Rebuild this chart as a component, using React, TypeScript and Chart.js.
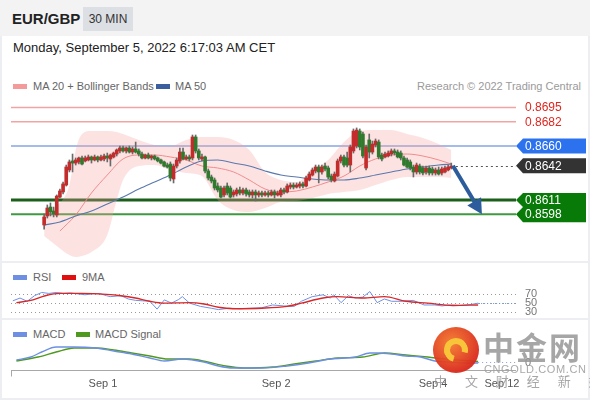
import React, { useEffect, useRef } from "react";
import { Chart, registerables } from "chart.js";
Chart.register(...registerables);

const FONT = '"Liberation Sans", Arial, Helvetica, sans-serif';
const SLOTS = 140;

// ---- 30-minute candles (EUR/GBP) ----
const candleOpen = [
  0.85882, 0.85964, 0.86045, 0.86009, 0.85973, 0.86136, 0.86182, 0.86245, 0.86382, 0.86464,
  0.86445, 0.86455, 0.86491, 0.86464, 0.86473, 0.865, 0.86473, 0.865, 0.86473, 0.86482,
  0.86509, 0.86482, 0.865, 0.86527, 0.86555, 0.86582, 0.86555, 0.86582, 0.86545, 0.86573,
  0.86555, 0.86527, 0.86491, 0.86518, 0.86491, 0.86509, 0.86491, 0.86473, 0.86455, 0.86427,
  0.86436, 0.863, 0.86418, 0.86464, 0.86545, 0.86482, 0.865, 0.86491, 0.86682, 0.86555,
  0.86482, 0.865, 0.86373, 0.86318, 0.86291, 0.86236, 0.86218, 0.86155, 0.86236, 0.86218,
  0.86155, 0.86164, 0.862, 0.86173, 0.862, 0.86182, 0.86155, 0.86182, 0.86155, 0.86173,
  0.86155, 0.86173, 0.86155, 0.86182, 0.86155, 0.86155, 0.862, 0.86182, 0.86227, 0.86245,
  0.86227, 0.86236, 0.86255, 0.86236, 0.86291, 0.86336, 0.86373, 0.86409, 0.86364, 0.86418,
  0.864, 0.86327, 0.86282, 0.86327, 0.86464, 0.865, 0.86491, 0.86427, 0.86555, 0.866,
  0.86736, 0.86709, 0.864, 0.86655, 0.86545, 0.86609, 0.86636, 0.86518, 0.865, 0.86509,
  0.86527, 0.86555, 0.86545, 0.86536, 0.86491, 0.86473, 0.86455, 0.86409, 0.86364, 0.86418,
  0.864, 0.86364, 0.864, 0.86391, 0.86355, 0.86382, 0.86355, 0.86364, 0.86382, 0.864,
];
const candleClose = [
  0.85955, 0.86036, 0.86, 0.85982, 0.86145, 0.86191, 0.86255, 0.86409, 0.86455, 0.86445,
  0.86473, 0.86491, 0.86436, 0.86491, 0.865, 0.86473, 0.865, 0.86473, 0.865, 0.86509,
  0.86491, 0.86518, 0.86536, 0.86564, 0.86582, 0.86555, 0.86582, 0.86545, 0.86573, 0.86545,
  0.86527, 0.86491, 0.86518, 0.86491, 0.86509, 0.86482, 0.86464, 0.86445, 0.86418, 0.86409,
  0.86309, 0.86418, 0.86473, 0.86545, 0.86482, 0.865, 0.86482, 0.86682, 0.86555, 0.86491,
  0.865, 0.86373, 0.86309, 0.86282, 0.86218, 0.862, 0.86136, 0.86218, 0.86173, 0.86136,
  0.86182, 0.862, 0.86173, 0.862, 0.86164, 0.86155, 0.86182, 0.86155, 0.86173, 0.86155,
  0.86173, 0.86155, 0.86182, 0.86155, 0.86173, 0.862, 0.86182, 0.86236, 0.86245, 0.86227,
  0.86245, 0.86255, 0.86236, 0.86309, 0.86345, 0.86382, 0.86409, 0.86364, 0.86409, 0.86391,
  0.86318, 0.86291, 0.86345, 0.86464, 0.865, 0.86427, 0.86427, 0.86591, 0.86736, 0.86745,
  0.86591, 0.86509, 0.86591, 0.86545, 0.86618, 0.86645, 0.865, 0.86482, 0.86527, 0.86536,
  0.86555, 0.86536, 0.865, 0.86491, 0.86427, 0.86409, 0.864, 0.86364, 0.86427, 0.86364,
  0.86355, 0.864, 0.86355, 0.86355, 0.86382, 0.86345, 0.86391, 0.864, 0.86409, 0.86418,
];
const candleHigh = [
  0.85982, 0.86064, 0.86082, 0.86045, 0.86155, 0.86209, 0.86273, 0.86427, 0.86473, 0.86527,
  0.86491, 0.865, 0.86509, 0.86509, 0.86518, 0.86509, 0.86518, 0.86509, 0.86518, 0.86527,
  0.86536, 0.86527, 0.86545, 0.86573, 0.866, 0.866, 0.86591, 0.866, 0.86591, 0.86636,
  0.86573, 0.86545, 0.86527, 0.86536, 0.86518, 0.86518, 0.865, 0.86482, 0.86464, 0.86445,
  0.86455, 0.86436, 0.86491, 0.86582, 0.86582, 0.86518, 0.86518, 0.867, 0.867, 0.86573,
  0.86527, 0.86509, 0.86391, 0.86336, 0.86309, 0.86264, 0.86236, 0.86236, 0.86264, 0.86236,
  0.862, 0.86218, 0.86227, 0.86218, 0.86218, 0.862, 0.862, 0.862, 0.86191, 0.86191,
  0.86191, 0.86191, 0.862, 0.862, 0.86191, 0.86218, 0.86218, 0.86255, 0.86264, 0.86264,
  0.86264, 0.86273, 0.86273, 0.86327, 0.86364, 0.864, 0.86427, 0.86427, 0.86427, 0.86445,
  0.86418, 0.86345, 0.86364, 0.86482, 0.86518, 0.86518, 0.86545, 0.86609, 0.86755, 0.86764,
  0.86755, 0.86727, 0.86609, 0.86709, 0.86645, 0.86664, 0.86655, 0.86536, 0.86545, 0.86555,
  0.86573, 0.86573, 0.86564, 0.86555, 0.86509, 0.86491, 0.86473, 0.86427, 0.86445, 0.86436,
  0.86418, 0.86418, 0.86418, 0.86409, 0.864, 0.86409, 0.86409, 0.86418, 0.86427, 0.86445,
];
const candleLow = [
  0.85845, 0.85945, 0.85964, 0.85955, 0.85955, 0.86127, 0.86164, 0.86236, 0.86364, 0.86364,
  0.86427, 0.86436, 0.86427, 0.86455, 0.86464, 0.86445, 0.86464, 0.86455, 0.86464, 0.86464,
  0.86455, 0.86418, 0.86491, 0.86509, 0.86536, 0.86545, 0.86536, 0.86536, 0.86527, 0.86536,
  0.86509, 0.86482, 0.86482, 0.86482, 0.86473, 0.86473, 0.86455, 0.86436, 0.86409, 0.864,
  0.86282, 0.86264, 0.864, 0.86445, 0.86473, 0.86473, 0.86464, 0.86473, 0.86536, 0.86473,
  0.86464, 0.86355, 0.86291, 0.86264, 0.862, 0.86182, 0.86127, 0.86136, 0.86155, 0.86127,
  0.86136, 0.86145, 0.86155, 0.86155, 0.86145, 0.86136, 0.86127, 0.861, 0.86136, 0.86136,
  0.86145, 0.86136, 0.86145, 0.86127, 0.86145, 0.86136, 0.86164, 0.86173, 0.86209, 0.86209,
  0.86218, 0.86218, 0.86218, 0.86227, 0.86282, 0.86327, 0.86355, 0.86264, 0.86345, 0.86373,
  0.863, 0.86273, 0.86273, 0.86318, 0.86445, 0.86409, 0.86409, 0.86364, 0.86536, 0.86582,
  0.86564, 0.86491, 0.86382, 0.86491, 0.86527, 0.86591, 0.86482, 0.86464, 0.86491, 0.865,
  0.86509, 0.86518, 0.86491, 0.86473, 0.86418, 0.864, 0.86382, 0.86318, 0.86345, 0.86345,
  0.86336, 0.86345, 0.86336, 0.86336, 0.86336, 0.86336, 0.86336, 0.86355, 0.86373, 0.86391,
];

// ---- Bollinger bands / moving averages (read at sample candles) ----
const bbSlots = [0, 4, 8, 10, 12, 15, 20, 23, 25, 30, 35, 40, 45, 50, 55, 60, 65, 70, 75, 80, 85, 90, 95, 100, 105, 110, 115, 120, 125, 129];
const bbUpper = [0.85982, 0.86055, 0.86245, 0.86564, 0.86709, 0.86736, 0.86736, 0.86727, 0.86709, 0.86655, 0.86609, 0.866, 0.86655, 0.86682, 0.86682, 0.86655, 0.86564, 0.86364, 0.86291, 0.86273, 0.86382, 0.86473, 0.86636, 0.86736, 0.86745, 0.86745, 0.86709, 0.86673, 0.86618, 0.86564];
const bbLower = [0.85782, 0.85691, 0.85609, 0.85591, 0.856, 0.85636, 0.85791, 0.86109, 0.86291, 0.86418, 0.86427, 0.86382, 0.86355, 0.86327, 0.86109, 0.86018, 0.86, 0.86036, 0.86091, 0.861, 0.86127, 0.86164, 0.86182, 0.862, 0.86245, 0.86291, 0.86318, 0.86318, 0.86318, 0.86309];
const ma20Slots = [5, 10, 15, 20, 25, 30, 35, 40, 45, 50, 55, 60, 65, 70, 75, 80, 85, 90, 95, 100, 105, 110, 115, 120, 125, 129];
const ma20 = [0.85827, 0.85973, 0.86173, 0.86336, 0.86482, 0.86518, 0.86518, 0.865, 0.86473, 0.86418, 0.864, 0.86364, 0.86291, 0.86209, 0.86182, 0.86191, 0.86227, 0.86273, 0.86327, 0.86418, 0.86482, 0.86518, 0.86527, 0.86509, 0.86473, 0.86436];
const ma50Slots = [0, 5, 10, 15, 20, 25, 30, 35, 40, 45, 50, 55, 60, 65, 70, 75, 80, 85, 90, 95, 100, 105, 110, 115, 120, 125, 129];
const ma50 = [0.85882, 0.85909, 0.85964, 0.86009, 0.86073, 0.86136, 0.86209, 0.86273, 0.86336, 0.86409, 0.86464, 0.86473, 0.86445, 0.86418, 0.86373, 0.86336, 0.86318, 0.863, 0.86291, 0.86291, 0.86309, 0.86336, 0.86364, 0.86391, 0.86409, 0.86427, 0.86436];

// ---- key levels ----
const levelValues = [0.8695, 0.8682, 0.866, 0.8642, 0.8611, 0.8598];
const levelLabels = ["0.8695", "0.8682", "0.8660", "0.8642", "0.8611", "0.8598"];
const levelKinds = ["red", "red", "blue", "dark", "green", "green"];
const arrowFrom = [129.5, 0.8642];
const arrowTo = [138.7, 0.8598];
const priceMin = 0.855545;
const priceMax = 0.870636;

// ---- RSI ----
const rsiSlots = [0, 2, 4, 6, 8, 10, 12, 14, 16, 18, 20, 22, 24, 26, 27, 30, 32, 34, 36, 38, 40, 42, 44, 46, 47, 49, 52, 55, 57, 60, 63, 66, 69, 72, 75, 78, 80, 83, 86, 88, 89, 91, 93, 95, 97, 99, 101, 103, 105, 108, 111, 114, 117, 119, 121, 124, 127, 129];
const rsiValues = [55, 61, 54, 66, 73, 71, 73, 71, 72, 70, 68, 70, 71, 66, 64, 66, 59, 56, 55, 54, 37, 57, 50, 58, 64, 50, 43, 39, 36, 39, 38, 39, 40, 46, 44, 43, 54, 64, 68, 61, 68, 51, 66, 61, 63, 75, 51, 59, 54, 54, 56, 46, 46, 44, 46, 45, 47, 50];
const rsi9Slots = [1, 5, 9, 13, 19, 26, 30, 34, 38, 42, 49, 53, 57, 61, 69, 76, 80, 86, 90, 97, 103, 109, 115, 122, 129];
const rsi9Values = [51, 56, 66, 71, 71, 69, 66, 61, 54, 50, 51, 48, 41, 38, 39, 43, 50, 61, 64, 61, 64, 54, 50, 45, 46];
const rsiLevels = [70, 50, 30];

// ---- MACD ----
const macdSlots = [1, 5, 8, 12, 17, 23, 28, 33, 38, 42, 47, 53, 57, 61, 69, 76, 82, 88, 95, 99, 101, 105, 109, 113, 117, 121, 125, 129];
const macdValues = [0.00004, 0.0001, 0.0002, 0.0003, 0.0003, 0.00028, 0.00022, 0.00016, 0.00008, 0.00002, 0.00006, 0, -0.00008, -0.00012, -0.00012, -0.00008, -0.00002, 0.00006, 0.0001, 0.00018, 0.00018, 0.00016, 0.00012, 0.0001, 0.00002, 0, -0.00002, -0.00002];
const signalSlots = [1, 7, 12, 17, 23, 28, 33, 38, 43, 49, 54, 59, 64, 72, 78, 84, 90, 97, 103, 109, 115, 120, 125, 129];
const signalValues = [0.00002, 0.0001, 0.0002, 0.00028, 0.00028, 0.00024, 0.00018, 0.00012, 0.00006, 0.00006, 0, -0.00008, -0.00012, -0.0001, -0.00004, 0.00002, 0.00008, 0.0001, 0.00018, 0.00014, 0.0001, 0.00006, 0.00003, 0.00001];

// ---- time axis ----
const xTickSlots = [25, 73, 116.5, 135.6];
const xTickLabels = ["Sep 1", "Sep 2", "Sep 4", "Sep 12"];

const RED = "#c42b2b";
const GREEN = "#2f7a2c";

const pts = (slots: number[], vals: number[]) => slots.map((s, i) => ({ x: s, y: vals[i] }));

function baseOptions(yMin: number, yMax: number, padBottom = 0): any {
  return {
    responsive: false,
    maintainAspectRatio: false,
    animation: false,
    devicePixelRatio: 1,
    events: [],
    layout: { padding: { left: 11, right: 74, top: 0, bottom: padBottom } },
    plugins: { legend: { display: false }, tooltip: { enabled: false } },
    scales: {
      x: { type: "linear", min: -0.5, max: SLOTS - 0.5, display: false },
      y: { type: "linear", min: yMin, max: yMax, display: false },
    },
  };
}

function lineDs(data: any[], color: string, width: number, smooth: boolean, order: number): any {
  return {
    type: "line",
    data,
    borderColor: color,
    borderWidth: width,
    pointRadius: 0,
    tension: smooth ? 0.4 : 0,
    cubicInterpolationMode: smooth ? "monotone" : "default",
    fill: false,
    order,
  };
}

function tagPath(ctx: CanvasRenderingContext2D, tipX: number, bodyX: number, right: number, top: number, bottom: number, tips: number[]) {
  const ts = [...tips].sort((a, b) => b - a);
  ctx.beginPath();
  ctx.moveTo(bodyX, top);
  ctx.lineTo(right, top);
  ctx.lineTo(right, bottom);
  ctx.lineTo(bodyX, bottom);
  ts.forEach((ty, k) => {
    ctx.lineTo(tipX, ty);
    const next = k < ts.length - 1 ? (ty + ts[k + 1]) / 2 : top;
    ctx.lineTo(bodyX, next);
  });
  ctx.closePath();
}

const mainPlugin: any = {
  id: "mainDecor",
  beforeDatasetsDraw(chart: any) {
    const { ctx, chartArea: a, scales } = chart;
    const y = scales.y;
    ctx.save();
    levelValues.forEach((v, i) => {
      const k = levelKinds[i];
      if (k === "dark") return;
      let color = "#f2a3a3", w = 1.5;
      if (k === "blue") { color = "#4d7bd6"; w = 1.2; }
      if (k === "green") { color = i === 4 ? "#1c5e1c" : "#3e9a3e"; w = i === 4 ? 3 : 2; }
      const py = y.getPixelForValue(v);
      ctx.strokeStyle = color;
      ctx.lineWidth = w;
      ctx.beginPath();
      ctx.moveTo(a.left, py);
      ctx.lineTo(a.right, py);
      ctx.stroke();
    });
    ctx.restore();
  },
  afterDatasetsDraw(chart: any) {
    const { ctx, chartArea: a, scales } = chart;
    const x = scales.x, y = scales.y;
    ctx.save();
    const lastY = Math.round(y.getPixelForValue(levelValues[3])) + 0.5;
    ctx.setLineDash([2, 3]);
    ctx.strokeStyle = "#555";
    ctx.lineWidth = 1;
    ctx.beginPath();
    ctx.moveTo(x.getPixelForValue(arrowFrom[0]) + 3, lastY);
    ctx.lineTo(a.right, lastY);
    ctx.stroke();
    ctx.setLineDash([]);
    const x0 = x.getPixelForValue(arrowFrom[0]), y0 = y.getPixelForValue(arrowFrom[1]);
    const x1 = x.getPixelForValue(arrowTo[0]), y1 = y.getPixelForValue(arrowTo[1]);
    const ang = Math.atan2(y1 - y0, x1 - x0);
    const c = Math.cos(ang), s = Math.sin(ang);
    ctx.strokeStyle = "#2d5c9c";
    ctx.fillStyle = "#2d5c9c";
    ctx.lineWidth = 4;
    ctx.beginPath();
    ctx.moveTo(x0, y0);
    ctx.lineTo(x1 - c * 12, y1 - s * 12);
    ctx.stroke();
    const bx = x1 - c * 15, by = y1 - s * 15;
    ctx.beginPath();
    ctx.moveTo(x1, y1);
    ctx.lineTo(bx - s * 8, by + c * 8);
    ctx.lineTo(bx + s * 8, by - c * 8);
    ctx.closePath();
    ctx.fill();
    const tipX = a.right, bodyX = a.right + 7, right = a.right + 70;
    ctx.font = "12px " + FONT;
    ctx.textBaseline = "middle";
    ctx.textAlign = "left";
    const tx = a.right + 9;
    const gy: number[] = [];
    levelValues.forEach((v, i) => {
      const py = y.getPixelForValue(v);
      const k = levelKinds[i];
      if (k === "red") {
        ctx.fillStyle = "#e0261f";
        ctx.fillText(levelLabels[i], tx, py + 0.5);
      } else if (k === "blue" || k === "dark") {
        ctx.fillStyle = k === "blue" ? "#2c72ef" : "#333333";
        tagPath(ctx, tipX, bodyX, right, py - 7.5, py + 7.5, [py]);
        ctx.fill();
        ctx.fillStyle = "#ffffff";
        ctx.fillText(levelLabels[i], tx, py + 0.5);
      } else {
        gy.push(py);
      }
    });
    if (gy.length) {
      const top = Math.min(...gy) - 7, bottom = Math.max(...gy) + 8;
      ctx.fillStyle = "#077a07";
      tagPath(ctx, tipX, bodyX, right, top, bottom, gy);
      ctx.fill();
      ctx.fillStyle = "#ffffff";
      levelValues.forEach((v, i) => {
        if (levelKinds[i] === "green") ctx.fillText(levelLabels[i], tx, y.getPixelForValue(v) + 0.5);
      });
    }
    ctx.restore();
  },
};

const rsiPlugin: any = {
  id: "rsiDecor",
  beforeDatasetsDraw(chart: any) {
    const { ctx, chartArea: a, scales } = chart;
    ctx.save();
    ctx.setLineDash([1, 3]);
    ctx.strokeStyle = "#9a9a9a";
    ctx.lineWidth = 1;
    rsiLevels.forEach((lv) => {
      const py = Math.round(scales.y.getPixelForValue(lv)) + 0.5;
      ctx.beginPath();
      ctx.moveTo(a.left, py);
      ctx.lineTo(a.right, py);
      ctx.stroke();
    });
    ctx.restore();
  },
  afterDatasetsDraw(chart: any) {
    const { ctx, chartArea: a, scales } = chart;
    ctx.save();
    const py = Math.round(scales.y.getPixelForValue(50)) + 0.5;
    ctx.setLineDash([1, 2]);
    ctx.strokeStyle = "#6f8fe3";
    ctx.beginPath();
    ctx.moveTo(scales.x.getPixelForValue(rsiSlots[rsiSlots.length - 1]), py);
    ctx.lineTo(a.right, py);
    ctx.stroke();
    ctx.setLineDash([]);
    ctx.font = "11px " + FONT;
    ctx.fillStyle = "#777";
    ctx.textBaseline = "middle";
    rsiLevels.forEach((lv) => {
      ctx.fillText(String(lv), a.right + 9, scales.y.getPixelForValue(lv));
    });
    ctx.restore();
  },
};

const macdPlugin: any = {
  id: "macdDecor",
  afterDatasetsDraw(chart: any) {
    const { ctx, chartArea: a, scales } = chart;
    ctx.save();
    const zy = Math.round(scales.y.getPixelForValue(0)) + 0.5;
    ctx.setLineDash([1, 3]);
    ctx.strokeStyle = "#8a9fd6";
    ctx.lineWidth = 1;
    ctx.beginPath();
    ctx.moveTo(scales.x.getPixelForValue(macdSlots[macdSlots.length - 1]), zy);
    ctx.lineTo(a.right, zy);
    ctx.stroke();
    ctx.setLineDash([]);
    ctx.font = "11px " + FONT;
    ctx.fillStyle = "#777";
    ctx.textBaseline = "middle";
    ctx.fillText("0", a.right + 9, zy);
    const by = Math.round(a.bottom) + 0.5;
    ctx.strokeStyle = "#a8a8a8";
    ctx.beginPath();
    ctx.moveTo(a.left, by);
    ctx.lineTo(a.right, by);
    ctx.moveTo(a.left + 0.5, by);
    ctx.lineTo(a.left + 0.5, by + 6);
    ctx.stroke();
    ctx.fillStyle = "#555";
    ctx.textAlign = "center";
    xTickSlots.forEach((s, i) => {
      ctx.fillText(xTickLabels[i], scales.x.getPixelForValue(s), a.bottom + 14);
    });
    ctx.restore();
  },
};

function mainConfig(): any {
  const idx = candleOpen.map((_, i) => i);
  const bodyColors = candleOpen.map((o, i) => (candleClose[i] >= o ? RED : GREEN));
  return {
    type: "bar",
    data: {
      datasets: [
        {
          type: "line",
          data: pts(bbSlots, bbUpper),
          borderColor: "transparent",
          borderWidth: 0,
          pointRadius: 0,
          fill: "+1",
          backgroundColor: "rgba(247,160,160,0.3)",
          cubicInterpolationMode: "monotone",
          order: 10,
        },
        {
          type: "line",
          data: pts(bbSlots, bbLower),
          borderColor: "transparent",
          borderWidth: 0,
          pointRadius: 0,
          fill: false,
          cubicInterpolationMode: "monotone",
          order: 11,
        },
        lineDs(pts(ma20Slots, ma20), "#f08c8c", 1, true, 5),
        lineDs(pts(ma50Slots, ma50), "#5a78ad", 1.1, true, 4),
        {
          type: "bar",
          data: idx.map((i) => ({ x: i, y: [candleLow[i], candleHigh[i]] })),
          backgroundColor: "#6a6a6a",
          barThickness: 1,
          grouped: false,
          order: 2,
        },
        {
          type: "bar",
          data: idx.map((i) => ({ x: i, y: [candleOpen[i], candleClose[i]] })),
          backgroundColor: bodyColors,
          barThickness: 3,
          minBarLength: 1,
          grouped: false,
          order: 1,
        },
      ],
    },
    options: baseOptions(priceMin, priceMax),
    plugins: [mainPlugin],
  };
}

function rsiConfig(): any {
  return {
    type: "line",
    data: {
      datasets: [
        lineDs(pts(rsiSlots, rsiValues), "#7090e4", 1, false, 2),
        lineDs(pts(rsi9Slots, rsi9Values), "#d92626", 1.4, true, 1),
      ],
    },
    options: baseOptions(20, 100),
    plugins: [rsiPlugin],
  };
}

function macdConfig(): any {
  return {
    type: "line",
    data: {
      datasets: [
        lineDs(pts(macdSlots, macdValues), "#6d8fe3", 1.4, true, 1),
        lineDs(pts(signalSlots, signalValues), "#4f9a1e", 1.4, true, 2),
      ],
    },
    options: baseOptions(-0.00016, 0.00048, 30),
    plugins: [macdPlugin],
  };
}

const abs = (o: any): any => ({ position: "absolute", ...o });

function Swatch({ left, top, color }: { left: number; top: number; color: string }) {
  return <div style={abs({ left, top, width: 14, height: 5, background: color })} />;
}

function Txt({ left, top, size, color, children, extra }: any) {
  return (
    <div style={abs({ left, top, fontSize: size, lineHeight: size + 3 + "px", color, whiteSpace: "nowrap", ...extra })}>
      {children}
    </div>
  );
}

export default function App() {
  const mainRef = useRef<HTMLCanvasElement>(null);
  const rsiRef = useRef<HTMLCanvasElement>(null);
  const macdRef = useRef<HTMLCanvasElement>(null);

  useEffect(() => {
    const charts = [
      new Chart(mainRef.current as HTMLCanvasElement, mainConfig()),
      new Chart(rsiRef.current as HTMLCanvasElement, rsiConfig()),
      new Chart(macdRef.current as HTMLCanvasElement, macdConfig()),
    ];
    return () => charts.forEach((c) => c.destroy());
  }, []);

  return (
    <div style={abs({ left: 0, top: 0, width: 590, height: 400, background: "#eceef1", overflow: "hidden", fontFamily: FONT })}>
      <div style={abs({ left: 0, top: 0, width: 590, height: 36, background: "#f3f3f4" })} />
      <Txt left={12} top={10} size={15} color="#222" extra={{ fontWeight: "bold" }}>EUR/GBP</Txt>
      <div style={abs({ left: 83, top: 7, width: 50, height: 24, background: "#dcdfe4", fontSize: 12, lineHeight: "24px", textAlign: "center", color: "#333" })}>30 MIN</div>

      <div style={abs({ left: 2, top: 36, width: 586, height: 225, background: "#ffffff" })} />
      <div style={abs({ left: 2, top: 263, width: 586, height: 55, background: "#ffffff" })} />
      <div style={abs({ left: 2, top: 320, width: 586, height: 78, background: "#ffffff" })} />

      <Txt left={13} top={40} size={13} color="#222">Monday, September 5, 2022 6:17:03 AM CET</Txt>

      <Swatch left={13} top={84} color="#f59a9a" />
      <Txt left={33} top={79} size={11} color="#666">MA 20 + Bollinger Bands</Txt>
      <Swatch left={156} top={84} color="#3b5f9e" />
      <Txt left={175} top={79} size={11} color="#666">MA 50</Txt>
      <Txt left={300} top={79} size={11} color="#9a9a9a" extra={{ width: 281, textAlign: "right" }}>Research © 2022 Trading Central</Txt>

      <Swatch left={13} top={275} color="#6f8fe3" />
      <Txt left={33} top={270} size={11} color="#666">RSI</Txt>
      <Swatch left={62} top={275} color="#e01010" />
      <Txt left={82} top={270} size={11} color="#666">9MA</Txt>

      <Swatch left={13} top={332} color="#6f8fe3" />
      <Txt left={33} top={327} size={11} color="#666">MACD</Txt>
      <Swatch left={76} top={332} color="#4f9a1e" />
      <Txt left={95} top={327} size={11} color="#666">MACD Signal</Txt>

      <canvas ref={mainRef} width={590} height={166} style={abs({ left: 0, top: 95, width: 590, height: 166, display: "block" })} />
      <canvas ref={rsiRef} width={590} height={37} style={abs({ left: 0, top: 280, width: 590, height: 37, display: "block" })} />
      <canvas ref={macdRef} width={590} height={62} style={abs({ left: 0, top: 338, width: 590, height: 62, display: "block" })} />

      <div style={abs({ left: 433, top: 327, width: 46, height: 46, borderRadius: "50%", background: "radial-gradient(circle at 40% 35%, #f47a2c, #d9281b 72%)", opacity: 0.95 })} />
      <div style={abs({ left: 444, top: 338, width: 12, height: 12, borderRadius: "50%", border: "6px solid #f8c53a", borderBottomColor: "transparent", transform: "rotate(-30deg)" })} />
      <Txt left={483} top={327} size={31} color="rgba(150,150,150,0.85)" extra={{ fontFamily: '"Noto Sans CJK SC", sans-serif', fontWeight: "bold", letterSpacing: 2, lineHeight: "38px" }}>中金网</Txt>
      <Txt left={484} top={362} size={11} color="rgba(160,160,160,0.9)" extra={{ letterSpacing: 0.6 }}>CNGOLD.COM.CN</Txt>
      <Txt left={434} top={373} size={13} color="rgba(150,150,150,0.85)" extra={{ fontFamily: '"Noto Sans CJK SC", sans-serif', letterSpacing: 7.5 }}>中 文 财 经 新 媒 体</Txt>
    </div>
  );
}
